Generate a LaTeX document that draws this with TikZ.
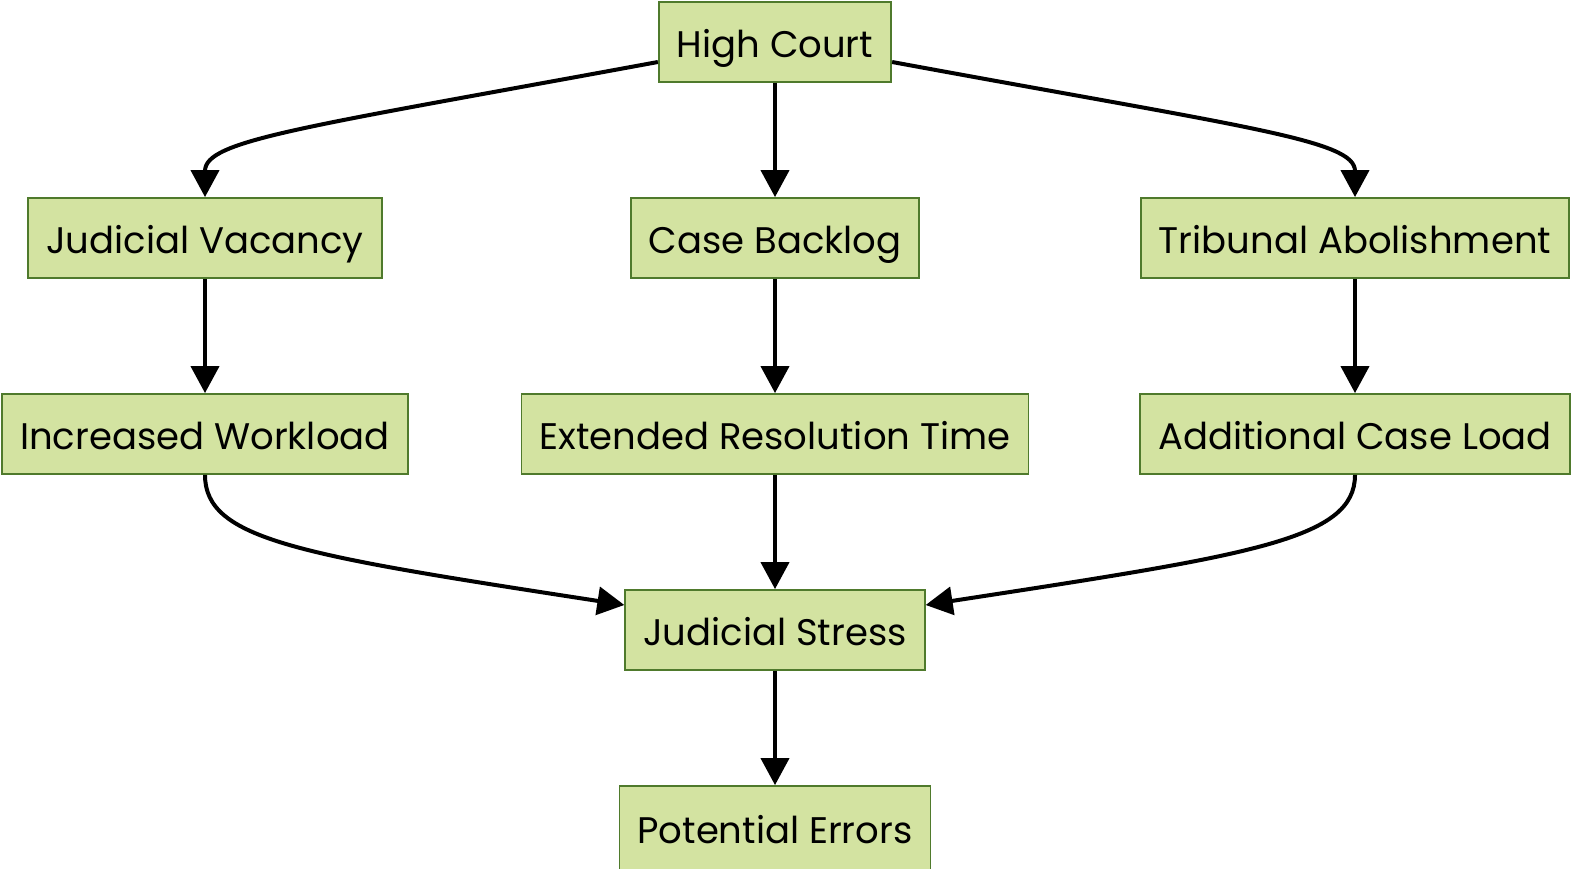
\documentclass[tikz,border=0pt]{standalone}
\usepackage{fontspec}
\setmainfont{Poppins}
\usetikzlibrary{arrows.meta}
\definecolor{boxfill}{HTML}{D3E3A1}
\definecolor{boxline}{HTML}{4F7A2C}
\tikzset{
  stepbox/.style={draw=boxline, line width=1.8pt, fill=boxfill, minimum height=80pt,
    inner xsep=18pt, text height=30pt, text depth=0pt,
    font=\fontsize{37}{44}\selectfont, text=black},
  flow/.style={->, line width=4pt, black}
}

\begin{document}
\begin{tikzpicture}[x=1pt, y=-1pt, >={Triangle[length=27pt,width=28pt]}]
			\useasboundingbox (0, 0) rectangle (1573, 868);
			% boxes
			\node[stepbox] (court) at (775, 42) {High Court};
			\node[stepbox] (vacancy) at (205, 238) {Judicial Vacancy};
			\node[stepbox] (backlog) at (775, 238) {Case Backlog};
			\node[stepbox] (tribunal) at (1355, 238) {Tribunal Abolishment};
			\node[stepbox] (workload) at (205, 434) {Increased Workload};
			\node[stepbox] (extended) at (775, 434) {Extended Resolution Time};
			\node[stepbox] (addload) at (1355, 434) {Additional Case Load};
			\node[stepbox] (stress) at (775, 630) {Judicial Stress};
			\node[stepbox, minimum height=84pt] (errors) at (775, 828) {Potential Errors};
			% arrows
			\draw[flow] ([yshift=-20pt]court.west) .. controls (300, 128) and (205, 140) .. (vacancy.north);
			\draw[flow] (court) -- (backlog);
			\draw[flow] ([yshift=-20pt]court.east) .. controls (1250, 128) and (1355, 140) .. (tribunal.north);
			\draw[flow] (vacancy) -- (workload);
			\draw[flow] (backlog) -- (extended);
			\draw[flow] (tribunal) -- (addload);
			\draw[flow] (workload.south) .. controls (205, 540) and (300, 555) .. ([yshift=25pt]stress.west);
			\draw[flow] (extended) -- (stress);
			\draw[flow] (addload.south) .. controls (1355, 540) and (1250, 555) .. ([yshift=25pt]stress.east);
			\draw[flow] (stress) -- (errors);
		\end{tikzpicture}
\end{document}
